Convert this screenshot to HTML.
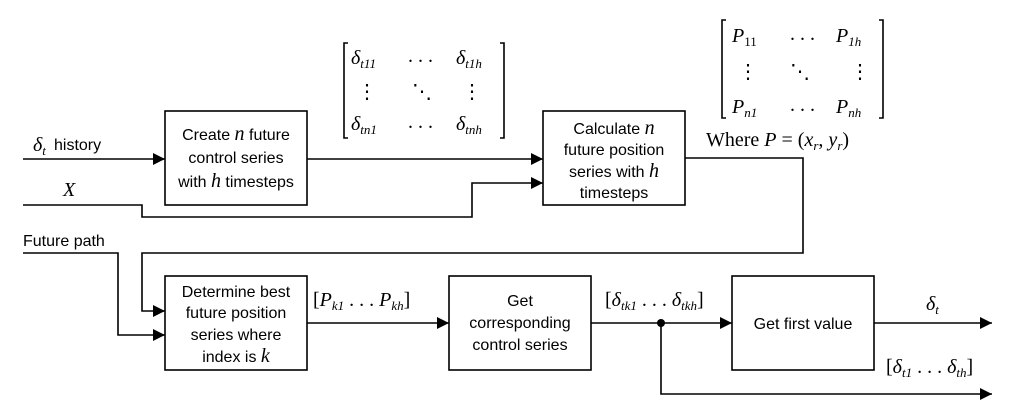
<!DOCTYPE html>
<html><head><meta charset="utf-8">
<style>
html,body{margin:0;padding:0;background:#fff;}
svg{display:block;}
.t{font-family:"Liberation Sans",Arial,sans-serif;font-size:16px;fill:#000;}
.m{font-family:"Liberation Serif","DejaVu Serif",serif;font-style:italic;font-size:20px;fill:#000;}
.r{font-family:"Liberation Serif","DejaVu Serif",serif;font-size:20px;fill:#000;}
.s{font-size:13px;}
line,polyline,rect,path{stroke:#000;stroke-width:1.6;fill:none;}
</style></head><body>
<svg width="1029" height="407" viewBox="0 0 1029 407">
<defs><marker id="ar" markerWidth="13" markerHeight="13" refX="12" refY="6" orient="auto" markerUnits="userSpaceOnUse"><path d="M0,0 L12,6 L0,12 z" style="fill:#000;stroke:none"/></marker></defs>

<g>
<text class="m" x="33" y="151">δ<tspan class="s" dy="4">t</tspan></text><text class="t" x="54" y="150">history</text>
<line x1="23" y1="159" x2="165" y2="159" marker-end="url(#ar)"/>
</g>
<g>
<text class="m" x="63" y="196">X</text>
<polyline points="23,205 142,205 142,217 472,217 472,183 543,183" marker-end="url(#ar)"/>
</g>
<g>
<text class="t" x="23" y="246">Future path</text>
<polyline points="23,253 118,253 118,335 165,335" marker-end="url(#ar)"/>
</g>

<g>
<rect x="165" y="111" width="142" height="94"/>
<text class="t" x="236" y="140" text-anchor="middle">Create <tspan class="m">n</tspan> future</text>
<text class="t" x="236" y="163" text-anchor="middle">control series</text>
<text class="t" x="236" y="187" text-anchor="middle">with <tspan class="m">h</tspan> timesteps</text>
</g>
<line x1="307" y1="159" x2="543" y2="159" marker-end="url(#ar)"/>

<g>
<path d="M348,43 H344 V138 H348"/><path d="M500,43 H504 V138 H500"/>
<text class="m" x="351" y="64">δ<tspan class="s" dy="4">t11</tspan></text>
<text class="r" x="408" y="62">. . .</text>
<text class="m" x="456" y="64">δ<tspan class="s" dy="4">t1h</tspan></text>
<text class="r" x="357" y="98">⋮</text><text class="r" x="412" y="98">⋱</text><text class="r" x="462" y="98">⋮</text>
<text class="m" x="351" y="130">δ<tspan class="s" dy="4">tn1</tspan></text>
<text class="r" x="408" y="128">. . .</text>
<text class="m" x="456" y="130">δ<tspan class="s" dy="4">tnh</tspan></text>
</g>

<g>
<rect x="543" y="111" width="142" height="94"/>
<text class="t" x="614" y="134" text-anchor="middle">Calculate <tspan class="m">n</tspan></text>
<text class="t" x="614" y="155" text-anchor="middle">future position</text>
<text class="t" x="614" y="177" text-anchor="middle">series with <tspan class="m">h</tspan></text>
<text class="t" x="614" y="198" text-anchor="middle">timesteps</text>
</g>

<g>
<path d="M726,20 H722 V118 H726"/><path d="M879,20 H883 V118 H879"/>
<text class="m" x="732" y="42">P<tspan class="s" dy="4" style="font-style:normal">11</tspan></text>
<text class="r" x="790" y="40">. . .</text>
<text class="m" x="836" y="42">P<tspan class="s" dy="4">1h</tspan></text>
<text class="r" x="738" y="78">⋮</text><text class="r" x="790" y="78">⋱</text><text class="r" x="850" y="78">⋮</text>
<text class="m" x="732" y="113">P<tspan class="s" dy="4">n1</tspan></text>
<text class="r" x="790" y="111">. . .</text>
<text class="m" x="836" y="113">P<tspan class="s" dy="4">nh</tspan></text>
<text class="r" x="706" y="146">Where  <tspan class="m">P</tspan> = (<tspan class="m">x</tspan><tspan class="m s" dy="4">r</tspan><tspan dy="-4">, </tspan><tspan class="m">y</tspan><tspan class="m s" dy="4">r</tspan><tspan dy="-4">)</tspan></text>
</g>

<polyline points="685,158 803,158 803,253 142,253 142,311 165,311" marker-end="url(#ar)"/>

<g>
<rect x="165" y="276" width="142" height="94"/>
<text class="t" x="236" y="297" text-anchor="middle">Determine best</text>
<text class="t" x="236" y="318" text-anchor="middle">future position</text>
<text class="t" x="236" y="340" text-anchor="middle">series where</text>
<text class="t" x="236" y="362" text-anchor="middle">index is <tspan class="m">k</tspan></text>
</g>
<text class="r" x="313" y="306">[<tspan class="m">P</tspan><tspan class="m s" dy="4">k1</tspan><tspan dy="-4"> . . . </tspan><tspan class="m">P</tspan><tspan class="m s" dy="4">kh</tspan><tspan dy="-4">]</tspan></text>
<line x1="307" y1="323" x2="449" y2="323" marker-end="url(#ar)"/>

<g>
<rect x="449" y="276" width="142" height="94"/>
<text class="t" x="520" y="306" text-anchor="middle">Get</text>
<text class="t" x="520" y="328" text-anchor="middle">corresponding</text>
<text class="t" x="520" y="350" text-anchor="middle">control series</text>
</g>
<text class="r" x="605" y="306">[<tspan class="m">δ</tspan><tspan class="m s" dy="4">tk1</tspan><tspan dy="-4"> . . . </tspan><tspan class="m">δ</tspan><tspan class="m s" dy="4">tkh</tspan><tspan dy="-4">]</tspan></text>
<line x1="591" y1="323" x2="732" y2="323" marker-end="url(#ar)"/>
<circle cx="661" cy="323" r="4" fill="#000"/>
<polyline points="661,323 661,394 992,394" marker-end="url(#ar)"/>

<g>
<rect x="732" y="276" width="142" height="94"/>
<text class="t" x="803" y="329" text-anchor="middle">Get first value</text>
</g>
<line x1="874" y1="323" x2="992" y2="323" marker-end="url(#ar)"/>
<text class="m" x="926" y="310">δ<tspan class="s" dy="4">t</tspan></text>
<text class="r" x="886" y="373">[<tspan class="m">δ</tspan><tspan class="m s" dy="4">t1</tspan><tspan dy="-4"> . . . </tspan><tspan class="m">δ</tspan><tspan class="m s" dy="4">th</tspan><tspan dy="-4">]</tspan></text>
</svg>
</body></html>
